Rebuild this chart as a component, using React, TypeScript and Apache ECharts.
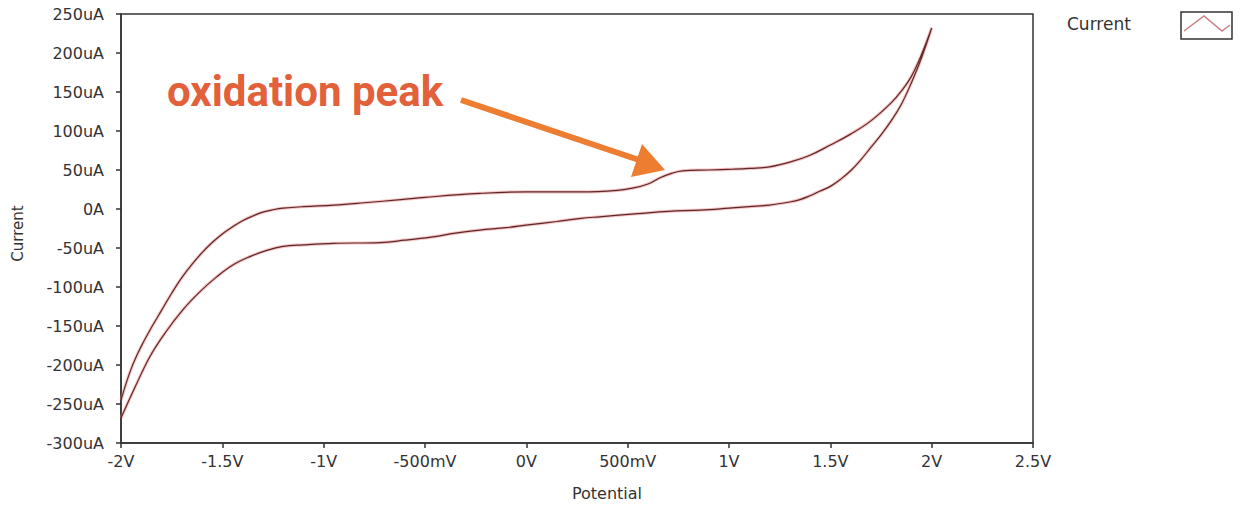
import React, { useEffect, useRef } from "react";
import * as echarts from "echarts";

// Tick labels
const xTickLabels = ["-2V", "-1.5V", "-1V", "-500mV", "0V", "500mV", "1V", "1.5V", "2V", "2.5V"];
const yTickLabels = ["-300uA", "-250uA", "-200uA", "-150uA", "-100uA", "-50uA", "0A", "50uA", "100uA", "150uA", "200uA", "250uA"];

// Forward (upper) branch: potential (V) and current (uA)
const forwardV = [-2.0, -1.95, -1.9, -1.85, -1.8, -1.75, -1.7, -1.65, -1.6, -1.55, -1.5, -1.45, -1.4, -1.35, -1.3, -1.25, -1.2, -1.1, -0.95, -0.8, -0.62, -0.5, -0.23, 0.0, 0.27, 0.45, 0.53, 0.6, 0.66, 0.72, 0.77, 0.9, 1.02, 1.1, 1.2, 1.3, 1.4, 1.5, 1.6, 1.7, 1.8, 1.85, 1.9, 1.95, 2.0];
const forwardI = [-245, -205, -176, -152, -130, -108, -88, -71, -56, -43, -32, -23, -15, -9, -4, -1, 1, 3, 5, 8, 12, 15, 20, 22, 22, 24, 27, 32, 40, 46, 49, 50, 51, 52, 54, 60, 69, 82, 96, 113, 136, 151, 170, 198, 232];

// Reverse (lower) branch
const reverseV = [2.0, 1.95, 1.9, 1.85, 1.8, 1.75, 1.7, 1.65, 1.6, 1.55, 1.5, 1.45, 1.4, 1.35, 1.3, 1.2, 1.1, 1.0, 0.86, 0.7, 0.55, 0.36, 0.27, 0.15, 0.02, -0.1, -0.23, -0.35, -0.47, -0.6, -0.72, -0.95, -1.1, -1.2, -1.28, -1.364, -1.45, -1.528, -1.61, -1.694, -1.78, -1.857, -1.93, -2.0];
const reverseI = [232, 194, 162, 134, 113, 95, 79, 63, 49, 38, 29, 23, 17, 12, 9, 5, 3, 1, -1.5, -3, -6, -10, -12, -16, -20, -24, -27, -31, -36, -40, -43, -44, -46, -48, -53, -61, -72, -87, -106, -129, -158, -189, -228, -268];

const seriesName = "Current";
const annotationText = "oxidation peak";

export default function App() {
  const ref = useRef<HTMLDivElement>(null);
  useEffect(() => {
    if (!ref.current) return;
    const chart = echarts.init(ref.current, null, { renderer: "svg" });
    const data: number[][] = [];
    forwardV.forEach((v, i) => data.push([v, forwardI[i]]));
    reverseV.forEach((v, i) => data.push([v, reverseI[i]]));
    const labelStyle = { fontFamily: "DejaVu Sans", fontSize: 16, color: "#333" };
    chart.setOption({
      animation: false,
      backgroundColor: "#fff",
      grid: {
        left: 121, right: 210, top: 14, bottom: 63,
        outerBoundsMode: "none",
        containLabel: false,
        show: true, borderColor: "#333", borderWidth: 1.5, backgroundColor: "#fff",
      },
      xAxis: {
        type: "value",
        min: -2,
        max: 2.5,
        interval: 0.5,
        name: "Potential",
        nameLocation: "middle",
        nameGap: 42,
        nameTextStyle: { ...labelStyle, padding: [0, 0, 0, 60] },
        axisLine: { show: true, onZero: false, lineStyle: { color: "#333", width: 1.5 } },
        axisTick: { show: true, length: 5, lineStyle: { color: "#333", width: 1.5 } },
        splitLine: { show: false },
        axisLabel: {
          ...labelStyle,
          margin: 10,
          formatter: (v: number) => xTickLabels[Math.round((v + 2) / 0.5)] ?? "",
        },
      },
      yAxis: {
        type: "value",
        min: -300,
        max: 250,
        interval: 50,
        name: "Current",
        nameLocation: "middle",
        nameGap: 96,
        nameRotate: 90,
        nameTextStyle: { ...labelStyle, fontSize: 15, padding: [0, 0, 0, -10] },
        axisLine: { show: true, onZero: false, lineStyle: { color: "#333", width: 1.5 } },
        axisTick: { show: true, length: 5, lineStyle: { color: "#333", width: 1.5 } },
        splitLine: { show: false },
        axisLabel: {
          ...labelStyle,
          margin: 17,
          formatter: (v: number) => yTickLabels[Math.round((v + 300) / 50)] ?? "",
        },
      },
      series: [
        {
          name: seriesName + " halo",
          type: "line",
          data,
          smooth: 0.4,
          showSymbol: false,
          silent: true,
          lineStyle: { color: "rgba(238,120,120,0.45)", width: 3.2 },
          z: 1,
        },
        {
          name: seriesName,
          type: "line",
          data,
          smooth: 0.4,
          showSymbol: false,
          lineStyle: { color: "#5c2828", width: 1.2 },
          z: 2,
        },
      ],
      graphic: [
        {
          type: "text",
          left: 1067,
          top: 15,
          style: { text: seriesName, fontFamily: "DejaVu Sans", fontSize: 17, fill: "#333" },
        },
        {
          type: "rect",
          shape: { x: 1181, y: 12, width: 51, height: 27 },
          style: { fill: "#fff", stroke: "#333", lineWidth: 1.5 },
        },
        {
          type: "polyline",
          shape: { points: [[1184, 31], [1204, 16], [1222, 31], [1230, 25]] },
          style: { stroke: "#c98080", lineWidth: 1.5, fill: "none" },
        },
        {
          type: "text",
          left: 167,
          top: 70,
          style: { text: annotationText, fontFamily: "Roboto", fontWeight: "bold", fontSize: 42, fill: "#E2603A" },
        },
        {
          type: "line",
          shape: { x1: 461, y1: 100, x2: 642, y2: 161 },
          style: { stroke: "#ED7D31", lineWidth: 6 },
        },
        {
          type: "polygon",
          shape: { points: [[665, 170], [642, 144], [631, 177]] },
          style: { fill: "#ED7D31" },
        },
      ],
    });
    return () => chart.dispose();
  }, []);
  return <div ref={ref} style={{ position: "fixed", left: 0, top: 0, width: 1243, height: 506 }} />;
}
